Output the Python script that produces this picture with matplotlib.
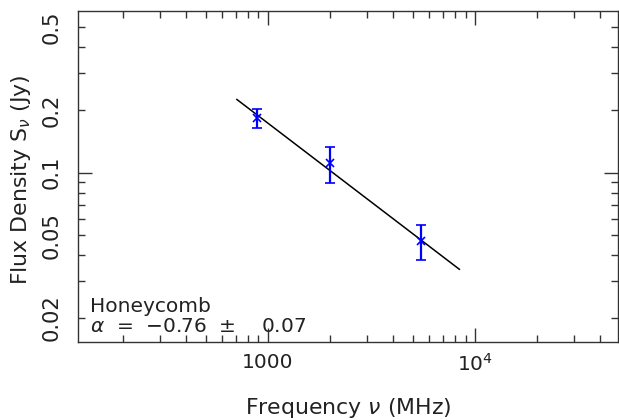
import matplotlib
matplotlib.use("Agg")
import matplotlib.pyplot as plt
import numpy as np
from matplotlib.ticker import FixedLocator, FixedFormatter, NullFormatter

# measured flux densities
freq_mhz = [888, 2000, 5500]
flux_jy = [0.183, 0.111, 0.047]
flux_err = [0.019, 0.022, 0.009]

# power-law fit S = S_1GHz * (nu / 1000 MHz)^alpha
alpha = -0.76
alpha_err = 0.07
s_1ghz = 0.173
fit_range = [708, 8400]

source_name = "Honeycomb"

plt.rcParams["font.family"] = ["DejaVu Sans"]
plt.rcParams["font.size"] = 14.5
plt.rcParams["mathtext.fontset"] = "dejavusans"
txt_color = "#222222"
label_size = 15.8

fig = plt.figure(figsize=(6.19, 4.20), dpi=100)
ax = fig.add_axes([78 / 619, 1 - 342 / 420, 540 / 619, 331 / 420])
ax.set_xscale("log")
ax.set_yscale("log")
ax.set_xlim(121, 49000)
ax.set_ylim(0.01535, 0.599)

nu = np.logspace(np.log10(fit_range[0]), np.log10(fit_range[1]), 50)
ax.plot(nu, s_1ghz * (nu / 1000.0) ** alpha, color="black", lw=1.1)

ax.errorbar(freq_mhz, flux_jy, yerr=flux_err, fmt="x", color="#0000ff",
            ms=6, mew=1.2, elinewidth=1.6, capsize=3.5, capthick=1.3)

# x axis: decades labelled, minor ticks in between
ax.xaxis.set_major_locator(FixedLocator([1000, 10000]))
ax.xaxis.set_major_formatter(FixedFormatter(["1000", r"$10^4$"]))
x_minor = [m * d for d in (100, 1000, 10000) for m in range(2, 10)]
ax.xaxis.set_minor_locator(FixedLocator(x_minor))
ax.xaxis.set_minor_formatter(NullFormatter())

# y axis: 0.1 is the long tick, others labelled on short ticks
ax.yaxis.set_major_locator(FixedLocator([0.1]))
ax.yaxis.set_major_formatter(FixedFormatter(["0.1"]))
y_minor = [0.02, 0.03, 0.04, 0.05, 0.06, 0.07, 0.08, 0.09,
           0.2, 0.3, 0.4, 0.5]
y_minor_lbl = ["0.02", "", "", "0.05", "", "", "", "",
               "0.2", "", "", "0.5"]
ax.yaxis.set_minor_locator(FixedLocator(y_minor))
ax.yaxis.set_minor_formatter(FixedFormatter(y_minor_lbl))

ax.tick_params(which="both", direction="in", top=True, right=True,
               width=1.0, colors="#333333", labelcolor=txt_color)
ax.tick_params(which="major", length=10)
ax.tick_params(which="minor", length=5)
ax.tick_params(axis="x", which="both", pad=8)
ax.tick_params(axis="y", which="both", pad=12, labelsize=15.2)
for lbl in ax.get_yticklabels(which="both"):
    lbl.set_rotation(90)
    lbl.set_va("center")

for sp in ax.spines.values():
    sp.set_linewidth(1.0)
    sp.set_color("#333333")

ax.set_ylabel(r"Flux Density S$_\nu$ (Jy)", color=txt_color,
              fontsize=label_size)
ax.yaxis.set_label_coords(-0.083, 0.489)
fig.text(0.5 * (78 + 618) / 619, 6 / 420, r"Frequency $\nu$ (MHz)",
         ha="center", va="baseline", color=txt_color, fontsize=label_size)

ax.text(0.022, 0.0906, source_name, transform=ax.transAxes,
        va="baseline", color=txt_color)
ax.text(0.022, 0.031,
        r"$\alpha$  =  $-$0.76  $\pm$    %.2f" % alpha_err,
        transform=ax.transAxes, va="baseline", color=txt_color)

fig.savefig("out.png", dpi=100)
